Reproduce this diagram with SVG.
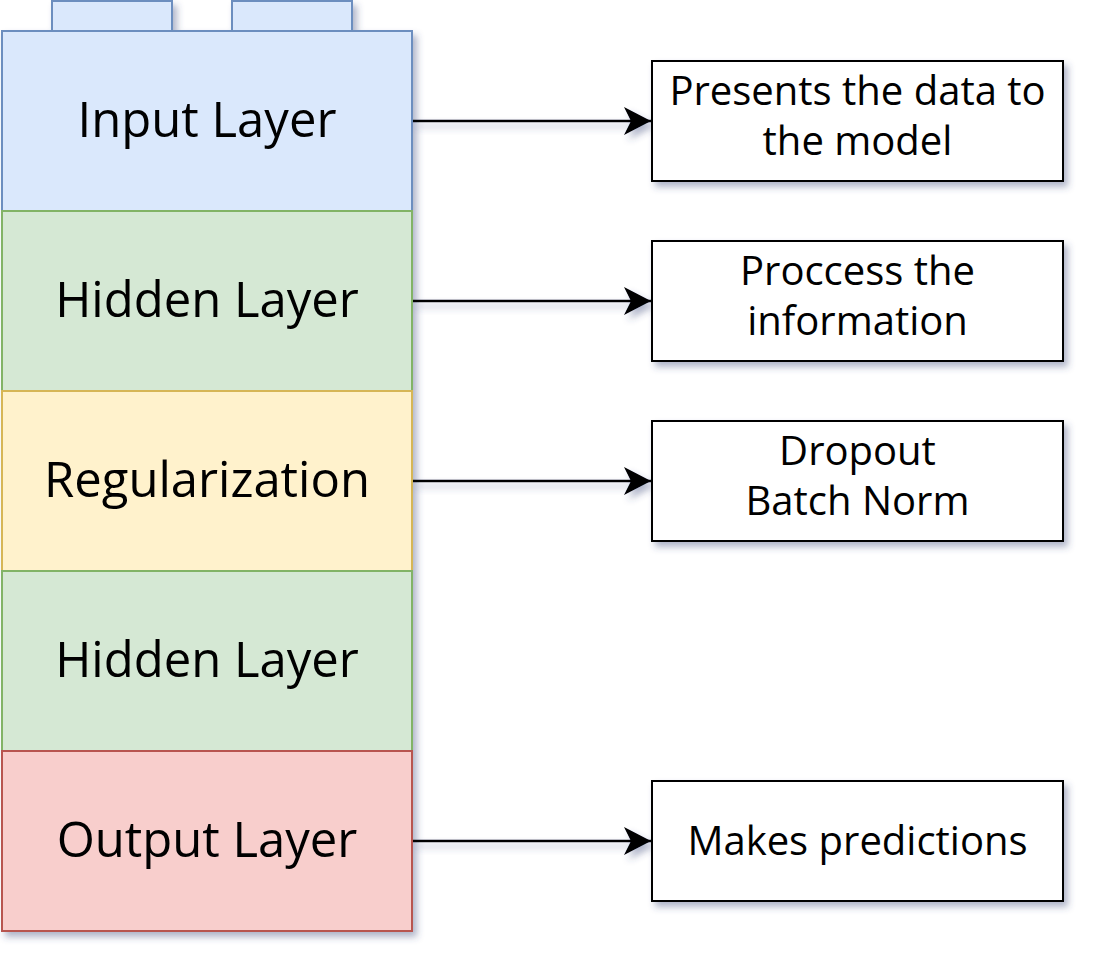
<svg xmlns="http://www.w3.org/2000/svg" width="1101" height="969" viewBox="0 0 1101 969">
<style>
.t{font-family:"Open Sans","Noto Sans","DejaVu Sans",sans-serif;fill:#000;text-anchor:middle}
.big{font-size:49px}
.sm{font-size:40px}
.box{fill:#fff;stroke:#000;stroke-width:2}
.conn{stroke:#000;stroke-width:2.5;fill:none}
</style>
<defs>
<filter id="sh" x="-10%" y="-10%" width="130%" height="130%">
<feDropShadow dx="4" dy="5" stdDeviation="3.5" flood-color="#3a4578" flood-opacity="0.4"/>
</filter>
<marker id="arr" viewBox="0 0 27 28" refX="27" refY="14" markerWidth="27" markerHeight="28" markerUnits="userSpaceOnUse" orient="auto">
<path d="M0,0 L27,14 L0,28 L7,14 Z" fill="#000"/>
</marker>
</defs>
<g id="stack" filter="url(#sh)">
<g id="tab1"><rect x="52" y="1" width="120" height="30" fill="#dae8fc" stroke="#6c8ebf" stroke-width="2"/></g>
<g id="tab2"><rect x="232" y="1" width="120" height="30" fill="#dae8fc" stroke="#6c8ebf" stroke-width="2"/></g>
<g id="input"><rect x="2" y="31" width="410" height="180" fill="#dae8fc" stroke="#6c8ebf" stroke-width="2"/></g>
<g id="hidden1"><rect x="2" y="211" width="410" height="180" fill="#d5e8d4" stroke="#82b366" stroke-width="2"/></g>
<g id="reg"><rect x="2" y="391" width="410" height="180" fill="#fff2cc" stroke="#d6b656" stroke-width="2"/></g>
<g id="hidden2"><rect x="2" y="571" width="410" height="180" fill="#d5e8d4" stroke="#82b366" stroke-width="2"/></g>
<g id="output"><rect x="2" y="751" width="410" height="180" fill="#f8cecc" stroke="#b85450" stroke-width="2"/></g>
</g>
<g id="labels">
<text class="t big" x="207" y="137">Input Layer</text>
<text class="t big" x="207" y="317">Hidden Layer</text>
<text class="t big" x="207" y="497">Regularization</text>
<text class="t big" x="207" y="677">Hidden Layer</text>
<text class="t big" x="207" y="857">Output Layer</text>
</g>
<g id="connectors" filter="url(#sh)">
<line class="conn" x1="413" y1="121" x2="651" y2="121" marker-end="url(#arr)"/>
<line class="conn" x1="413" y1="301" x2="651" y2="301" marker-end="url(#arr)"/>
<line class="conn" x1="413" y1="481" x2="651" y2="481" marker-end="url(#arr)"/>
<line class="conn" x1="413" y1="841" x2="651" y2="841" marker-end="url(#arr)"/>
</g>
<g id="desc1"><rect class="box" x="652" y="61" width="411" height="120" filter="url(#sh)"/>
<text class="t sm" x="857.5" y="105">Presents the data to</text>
<text class="t sm" x="857.5" y="155">the model</text></g>
<g id="desc2"><rect class="box" x="652" y="241" width="411" height="120" filter="url(#sh)"/>
<text class="t sm" x="857.5" y="285">Proccess the</text>
<text class="t sm" x="857.5" y="335">information</text></g>
<g id="desc3"><rect class="box" x="652" y="421" width="411" height="120" filter="url(#sh)"/>
<text class="t sm" x="857.5" y="465">Dropout</text>
<text class="t sm" x="857.5" y="515">Batch Norm</text></g>
<g id="desc4"><rect class="box" x="652" y="781" width="411" height="120" filter="url(#sh)"/>
<text class="t sm" x="857.5" y="855">Makes predictions</text></g>
</svg>
